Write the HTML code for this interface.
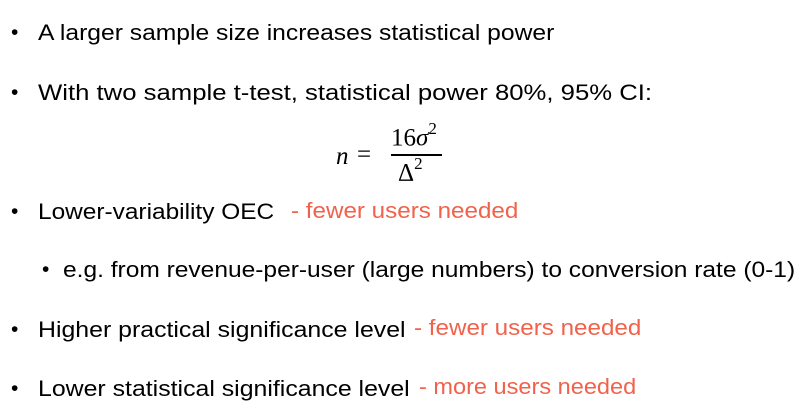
<!DOCTYPE html>
<html><head><meta charset="utf-8"><style>
html,body{margin:0;padding:0;background:#fff;width:807px;height:417px;overflow:hidden;position:relative;font-family:"Liberation Sans",Arial,sans-serif;color:#000}
.t,.r{position:absolute;font-size:22px;white-space:nowrap;line-height:24px;transform-origin:0 50%}
.r{color:#f0624b}
.b{position:absolute;font-size:21px;line-height:24px}
.m{position:absolute;font-family:"Liberation Serif",serif;font-size:25px;white-space:nowrap}
</style></head><body>
<div class="b" style="left:11px;top:21px">•</div>
<div class="t" style="left:38px;top:21px;transform:scaleX(1.12)">A larger sample size increases statistical power</div>
<div class="b" style="left:11px;top:81px">•</div>
<div class="t" style="left:38px;top:81px;transform:scaleX(1.168)">With two sample t-test, statistical power 80%, 95% CI:</div>
<div>
<div class="m" style="left:336px;top:143px;font-style:italic">n</div>
<div class="m" style="left:357px;top:141px">=</div>
<div class="m" style="left:391px;top:121px">16<i>σ</i><sup style="font-size:17px;position:relative;top:-2px">2</sup></div>
<div style="position:absolute;left:391px;top:154px;width:51px;height:1.5px;background:#000"></div>
<div class="m" style="left:398px;top:156px">Δ<sup style="font-size:17px;position:relative;top:-2px">2</sup></div>
</div>
<div class="b" style="left:11px;top:200px">•</div>
<div class="t" style="left:38px;top:200px;transform:scaleX(1.11)">Lower-variability OEC</div>
<div class="r" style="left:291px;top:199px;transform:scaleX(1.10)">- fewer users needed</div>
<div class="b" style="left:42px;top:258px">•</div>
<div class="t" style="left:63px;top:258px;transform:scaleX(1.115)">e.g. from revenue-per-user (large numbers) to conversion rate (0-1)</div>
<div class="b" style="left:11px;top:318px">•</div>
<div class="t" style="left:38px;top:318px;transform:scaleX(1.13)">Higher practical significance level</div>
<div class="r" style="left:414px;top:316px;transform:scaleX(1.10)">- fewer users needed</div>
<div class="b" style="left:11px;top:377px">•</div>
<div class="t" style="left:38px;top:377px;transform:scaleX(1.13)">Lower statistical significance level</div>
<div class="r" style="left:419px;top:375px;transform:scaleX(1.07)">- more users needed</div>
</body></html>
